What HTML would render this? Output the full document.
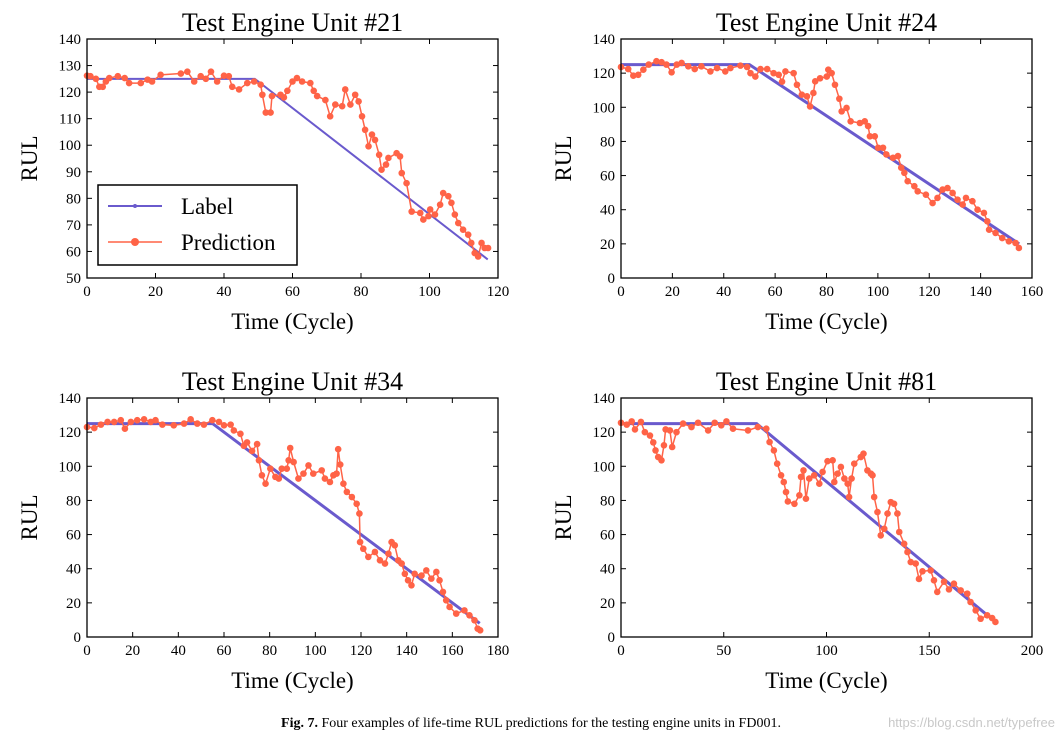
<!DOCTYPE html>
<html><head><meta charset="utf-8"><style>
html,body{margin:0;padding:0;background:#fff;}
svg{display:block;font-family:"Liberation Serif",serif;}
</style></head><body>
<svg id="fig" width="1062" height="741" viewBox="0 0 1062 741" xmlns="http://www.w3.org/2000/svg">
<text x="531" y="727" text-anchor="middle" font-size="14"><tspan font-weight="bold">Fig. 7.</tspan>  Four examples of life-time RUL predictions for the testing engine units in FD001.</text>
<text x="1055" y="727" text-anchor="end" font-size="13" fill="#c8c8c8" font-family="Liberation Sans, sans-serif">https://blog.csdn.net/typefree</text>
</svg>
<script>
// Unit 21
const u21LabelX=[0,49,117], u21LabelY=[125,125,57];
const u21PredX=[0,1,2.6,3.6,4.6,5.5,6.5,9,11,12.3,15.7,17.7,19,21.5,27.4,29.3,31.3,33.2,34.7,36.2,38,40,41.4,42.4,44.4,46.8,48.8,50.7,51.2,52.2,53.6,54,56.5,57.5,58.5,60,61.3,62.8,65.2,66.2,67.2,69.6,71,72.5,74.5,75.4,76.9,78.3,79.3,80.3,81.2,82.2,83.2,84.1,85.3,86,87.3,88,90.4,91.4,91.9,93.3,94.8,97.3,98.2,99.7,100.2,101.6,103.1,104,105.5,106.4,107.4,108.4,109.8,111.3,112.2,113.2,114.2,115.2,116.1,117.1];
const u21PredY=[126.2,126,125,122,122,124,125.3,126,125.3,123.4,123.4,124.7,124,126.5,127,127.7,124,126,125,127.7,124,126.2,126,122,121,123.4,124,122.8,119,112.3,112.3,118.5,119,118,120.5,124,125.3,124,123.4,120.5,118.5,117,110.9,115.3,114.7,121,115.3,119,116.5,110.9,105.8,99.6,104,102,96.4,90.8,92.7,95.2,97,95.8,89.5,85.7,75,74.5,72,73.3,75.8,73.9,77.6,82,80.8,78.3,73.9,70.7,68.2,66.3,63.2,59.4,58.1,63.2,61.3,61.3];
// Unit 24
const u24LabelX=[0,50,155], u24LabelY=[125,125,20];
const u24PredX=[0,2.8,4.8,6.7,8.7,10.8,13.8,15.8,17.7,19.7,21.7,23.6,26.2,28.7,31.3,34.8,37.4,40.6,42.6,46.5,49.1,50.4,52.3,54.3,56.9,59.4,61.4,62.7,64,67.2,68.5,70.4,72.4,73.6,74.9,75.6,77.5,80.1,80.7,82,83.3,85,85.9,87.8,89.4,93,94.9,96.2,96.9,98.8,100.1,102,103.3,105.9,107.8,109.1,110.3,111.6,114.2,115.5,118.7,121.3,123.2,125.2,127.1,129.1,131,133,134.3,136.8,138.8,141.3,142.6,143.3,145.8,148.4,151,153.6,154.9];
const u24PredY=[123.6,122.4,118.5,119,122,125,127,126.4,125,120.5,125,126,124,122.4,124,121,123,121,123,124.4,123.6,120,118,122.4,122.4,120,119,115,121,120,113.2,107.4,106.4,100.5,108.4,115.2,117,118,122,120,113.2,105,97.6,99.6,91.8,90.8,91.8,89,83,83,76.3,76.3,72.4,70.4,71.4,64.6,61.6,56.7,53.8,50.8,48.8,43.9,46.9,51.8,52.7,49.8,45.9,43,46.9,45,40,38.1,33.2,28.3,26.4,23.4,21.5,20.5,17.6];
// Unit 34
const u34LabelX=[0,55,172], u34LabelY=[125,125,8];
const u34PredX=[0,3.2,6.1,9,11.9,14.8,16.6,19.2,22,25,27.9,30,33,38,42.5,45.4,48.3,51.2,54.9,57.8,60,62.9,64.3,67.2,68.7,70.1,72.3,74.5,75.3,76.6,78.2,80.3,82.5,84,85.3,87.5,88.3,89,90.5,92.6,94.8,97,99.1,102.8,104.2,106.4,107.9,109.3,110,110.9,112.3,113.8,116,118.1,119.3,119.6,121,123.2,126.1,128.3,130.5,132,133.4,134.8,136.3,137.8,139.2,140.6,142.1,143.5,146.5,148.6,150.8,153,154.4,155.9,157.3,158.8,161.7,165.3,167.5,169.7,171.1,172.2];
const u34PredY=[123,122.4,124.4,126,126,127,122,126,127,127.5,126,127,124.4,124,125,127.5,125,124.4,127,126,124,124.4,121,119,112,114,109,113,103.5,94.7,89.8,98.6,93.8,92.8,98.6,98.6,103.5,110.7,102.5,92.8,95.7,100.5,95.7,97.6,92.8,90.8,94.7,95.7,110,101,89.8,85,82,78,72.3,55.6,51.7,46.9,49.8,44.9,43,48.8,55.6,53.7,44.9,43,37,33.2,30.3,37,36,39,34.2,38.1,33.2,26.4,21.5,17.6,13.7,15.6,12.7,9.8,4.9,3.9];
// Unit 81
const u81LabelX=[0,66,178], u81LabelY=[125,125,13];
const u81PredX=[0,2.8,5.2,6.8,9.7,11.6,14.1,15.7,16.8,18.1,19.7,20.9,21.7,23.8,24.9,27,30.2,34.3,37.5,42.4,45.6,48.8,51.3,54.5,61.8,66.6,70.7,72.3,74.4,76,77.9,79.2,80.3,81.2,84.4,86.8,87.6,88.8,90,91.6,94,96.5,98.1,100.5,103,103.8,105.4,107,108.7,110.3,111,112.2,113.5,116.7,118,119.9,121.6,122.4,123.2,124.8,126.4,128.1,129.7,131.3,132.9,134.5,135.4,137.8,139.4,141,143.4,145,146.7,150.7,152.3,153.9,157.2,159.6,162,165.3,168.5,170.1,172.6,175,178.2,180.6,182.2];
const u81PredY=[125.5,124.4,126.3,121.6,126,120,118,114,109.3,105.4,103.5,112.3,121.6,121,111.3,120,125,123,125.5,121,125.5,124,126.3,122,121,123,122,114.2,109.3,101.5,94.7,90.8,84.9,79.4,78,83,93.8,97.6,81,92.8,94.7,89.8,96.7,103,103.5,90.8,95.7,99.6,92.8,89.8,82,92.8,101.5,105.4,107.4,97.6,95.7,94.7,82,73.2,59.5,63.4,72.3,79,78,72.3,61.5,54.6,49.8,43.9,43,34,38.5,39,33.2,26.4,32.4,27.9,31.2,27.3,25.4,20.5,15.6,10.7,12.7,11.1,8.8];

const NS="http://www.w3.org/2000/svg";
const svg=document.getElementById('fig');
function mk(tag,attrs,parent){const e=document.createElementNS(NS,tag);for(const k in attrs)e.setAttribute(k,attrs[k]);(parent||svg).appendChild(e);return e;}

const panels=[
 {id:'unit-21',title:'Test Engine Unit #21',x0:87,y0:39,x1:498,y1:278,xmin:0,xmax:120,xstep:20,ymin:50,ymax:140,ystep:10,lx:u21LabelX,ly:u21LabelY,px:u21PredX,py:u21PredY,legend:true,small:true},
 {id:'unit-24',title:'Test Engine Unit #24',x0:621,y0:39,x1:1032,y1:278,xmin:0,xmax:160,xstep:20,ymin:0,ymax:140,ystep:20,lx:u24LabelX,ly:u24LabelY,px:u24PredX,py:u24PredY},
 {id:'unit-34',title:'Test Engine Unit #34',x0:87,y0:398,x1:498,y1:637,xmin:0,xmax:180,xstep:20,ymin:0,ymax:140,ystep:20,lx:u34LabelX,ly:u34LabelY,px:u34PredX,py:u34PredY},
 {id:'unit-81',title:'Test Engine Unit #81',x0:621,y0:398,x1:1032,y1:637,xmin:0,xmax:200,xstep:50,ymin:0,ymax:140,ystep:20,lx:u81LabelX,ly:u81LabelY,px:u81PredX,py:u81PredY}
];
const BLUE='#6a5acd', RED='#ff6347';
panels.forEach(p=>{
 const g=mk('g',{});
 
 
 const sx=v=>p.x0+(v-p.xmin)/(p.xmax-p.xmin)*(p.x1-p.x0);
 const sy=v=>p.y1-(v-p.ymin)/(p.ymax-p.ymin)*(p.y1-p.y0);
 const cx=(p.x0+p.x1)/2, cy=(p.y0+p.y1)/2;
 const t=mk('text',{x:cx,y:p.y0-8,'text-anchor':'middle','font-size':26},g);t.textContent=p.title;
 
 
 // ticks
 for(let v=p.xmin;v<=p.xmax+1e-9;v+=p.xstep){
  const X=sx(v);
  mk('line',{x1:X,x2:X,y1:p.y1,y2:p.y1-5,stroke:'#000'},g);
  mk('line',{x1:X,x2:X,y1:p.y0,y2:p.y0+5,stroke:'#000'},g);
  const tl=mk('text',{x:X,y:p.y1+18,'text-anchor':'middle','font-size':15},g);tl.textContent=v;
  
  
 }
 for(let v=p.ymin;v<=p.ymax+1e-9;v+=p.ystep){
  const Y=sy(v);
  mk('line',{x1:p.x0,x2:p.x0+5,y1:Y,y2:Y,stroke:'#000'},g);
  mk('line',{x1:p.x1,x2:p.x1-5,y1:Y,y2:Y,stroke:'#000'},g);
  const tl=mk('text',{x:p.x0-6,y:Y+5,'text-anchor':'end','font-size':15},g);tl.textContent=v;
  
  
 }
 const xt=mk('text',{x:cx,y:p.y1+51,'text-anchor':'middle','font-size':23},g);xt.textContent='Time (Cycle)';
 
 
 const yt=mk('text',{x:0,y:0,'text-anchor':'middle','font-size':23,transform:`translate(${p.x0-50},${cy}) rotate(-90)`},g);yt.textContent='RUL';
 
 
 // label series
 const lp=p.lx.map((v,i)=>sx(v)+','+sy(p.ly[i])).join(' ');
 const ll=mk('polyline',{points:lp,fill:'none',stroke:BLUE,'stroke-width':p.small?2:3},g);
 
 
 // prediction
 const pp=p.px.map((v,i)=>sx(v)+','+sy(p.py[i])).join(' ');
 const pl=mk('polyline',{points:pp,fill:'none',stroke:RED,'stroke-width':1.5},g);
 
 
 p.px.forEach((v,i)=>{
  const c=mk('circle',{cx:sx(v),cy:sy(p.py[i]),r:3.3,fill:RED},g);
  
  
 });
 const fr=mk('rect',{x:p.x0,y:p.y0,width:p.x1-p.x0,height:p.y1-p.y0,fill:'none',stroke:'#000','stroke-width':1.3},g);
 
 
 if(p.legend){
  const lg=mk('g',{},g);
  
  
  mk('rect',{x:98,y:185,width:199,height:80,fill:'#fff',stroke:'#000','stroke-width':1.5},lg);
  mk('line',{x1:108,x2:162,y1:206,y2:206,stroke:BLUE,'stroke-width':2},lg);
  mk('circle',{cx:135,cy:206,r:2,fill:BLUE},lg);
  const a=mk('text',{x:181,y:214,'font-size':23},lg);a.textContent='Label';
  
  
  mk('line',{x1:108,x2:162,y1:242,y2:242,stroke:RED,'stroke-width':1.5},lg);
  mk('circle',{cx:135,cy:242,r:4,fill:RED},lg);
  const b=mk('text',{x:181,y:250,'font-size':23},lg);b.textContent='Prediction';
  
  
 }
});
</script>
</body></html>
